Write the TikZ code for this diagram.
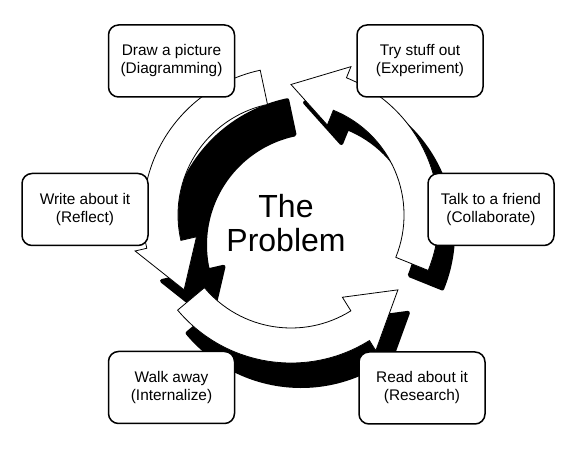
\documentclass[tikz,border=0pt]{standalone}
\usepackage{fontspec}
\setmainfont{Liberation Sans}

% one curved arrow of the ring: tail angle, head base angle, tip angle
\newcommand{\ringarrow}[3]{(#1:113pt) arc[start angle=#1,end angle=#2,radius=113pt] -- (#2:97pt) -- (#3:130.5pt) -- (#2:160pt) -- (#2:148pt) arc[start angle=#2,end angle=#1,radius=148pt] -- cycle}

\begin{document}
\begin{tikzpicture}[x=1pt,y=1pt,
	taskbox/.style={draw,line width=1.5pt,rounded corners=10pt,fill=white,minimum width=126pt,minimum height=72pt,align=center,inner sep=0pt,font=\fontsize{15.4pt}{18pt}\selectfont},
	wall/.style={fill=black,draw=black,line width=4pt,line join=round},
	arrowface/.style={fill=white,draw=black,line width=0.8pt}]
			\useasboundingbox (0,0) rectangle (584,450);
			\coordinate (hub) at (291,235);
			% black sides of the arrows
			\path[wall,shift={(hub)},xshift=27,yshift=-30] \ringarrow{102}{193}{215};
			\path[wall,shift={(hub)},xshift=10,yshift=-23] \ringarrow{220}{302}{325};
			\path[wall,shift={(hub)},xshift=14,yshift=-18] \ringarrow{338}{428}{450};
			% white faces
			\path[arrowface,shift={(hub)}] \ringarrow{102}{193}{215};
			\path[arrowface,shift={(hub)}] \ringarrow{220}{302}{325};
			\path[arrowface,shift={(hub)}] \ringarrow{338}{428}{450};
			\node[font=\fontsize{32pt}{34pt}\selectfont,align=center] (problem) at (286,226.5) {The\\Problem};
			\node[taskbox] (diagram) at (171.5,389) {Draw a picture\\(Diagramming)};
			\node[taskbox] (experiment) at (420,389) {Try stuff out\\(Experiment)};
			\node[taskbox] (reflect) at (85,240.5) {Write about it\\(Reflect)};
			\node[taskbox] (collaborate) at (491,240.5) {Talk to a friend\\(Collaborate)};
			\node[taskbox] (internalize) at (171.5,62.5) {Walk away\\(Internalize)};
			\node[taskbox] (research) at (422,62) {Read about it\\(Research)};
		\end{tikzpicture}
\end{document}
